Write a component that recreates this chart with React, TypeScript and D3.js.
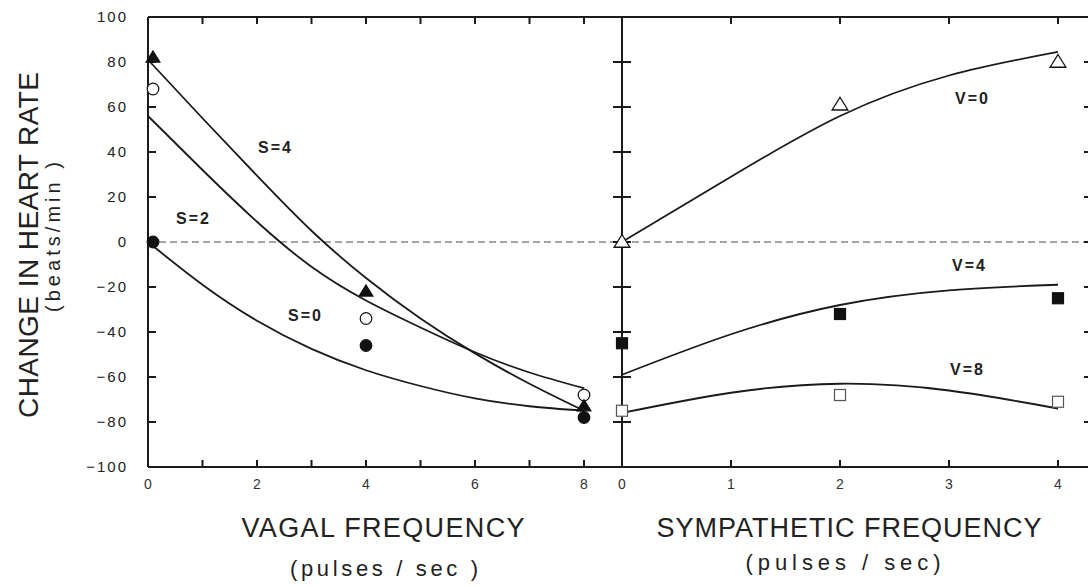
import React from "react";
import * as d3 from "d3";

// Vagal stimulation panel: measured points at 0, 4, 8 pulses/sec
const vagalFreq = [0, 4, 8];
const s4Measured = [82, -22, -73];
const s2Measured = [68, -34, -68];
const s0Measured = [0, -46, -78];

// Fitted response curves, read at each integer frequency
const vagalFitFreq = [0, 1, 2, 3, 4, 5, 6, 7, 8];
const s4Fit = [81, 55, 29.5, 5, -16, -34, -49.5, -63, -75];
const s2Fit = [56, 32, 9, -11, -26, -38, -49, -58, -65];
const s0Fit = [0, -19, -35, -47.5, -57, -64, -69.5, -73, -75];

// Sympathetic stimulation panel
const sympFreq = [0, 2, 4];
const v0Measured = [0, 61, 80];
const v4Measured = [-45, -32, -25];
const v8Measured = [-75, -68, -71];

const sympFitFreq = [0, 1, 2, 3, 4];
const v0Fit = [0, 29, 56, 74, 84.5];
const v4Fit = [-59, -41, -28, -21.5, -19];
const v8Fit = [-76, -67, -63, -66, -74];

const yTicks = [100, 80, 60, 40, 20, 0, -20, -40, -60, -80, -100];
const vagalTicks = [0, 1, 2, 3, 4, 5, 6, 7, 8];
const vagalLabels = [0, 2, 4, 6, 8];
const sympTicks = [0, 1, 2, 3, 4];

const W = 1088;
const H = 587;
const FONT = "'Liberation Sans', Arial, Helvetica, sans-serif";

export default function App() {
  const y = d3.scaleLinear().domain([-100, 100]).range([467, 17]);
  const xV = d3.scaleLinear().domain([0, 8]).range([148, 584]);
  const xS = d3.scaleLinear().domain([0, 4]).range([622, 1058]);
  const rightEdge = 1092;

  const lineV = d3
    .line<[number, number]>()
    .x((d) => xV(d[0]))
    .y((d) => y(d[1]))
    .curve(d3.curveNatural);
  const lineS = d3
    .line<[number, number]>()
    .x((d) => xS(d[0]))
    .y((d) => y(d[1]))
    .curve(d3.curveNatural);

  const zip = (xs: number[], ys: number[]) =>
    xs.map((v, i) => [v, ys[i]] as [number, number]);

  const tri = (cx: number, cy: number, filled: boolean, key: string, s = 7) => (
    <path
      key={key}
      d={`M${cx},${cy - s}L${cx + s * 1.05},${cy + s * 0.7}L${cx - s * 1.05},${cy + s * 0.7}Z`}
      fill={filled ? "#111" : "#fff"}
      stroke="#111"
      strokeWidth={1.3}
    />
  );
  const circ = (cx: number, cy: number, filled: boolean, key: string) => (
    <circle key={key} cx={cx} cy={cy} r={5.8} fill={filled ? "#111" : "#fff"} stroke="#111" strokeWidth={1.2} />
  );
  const sq = (cx: number, cy: number, filled: boolean, key: string) => (
    <rect
      key={key}
      x={cx - 5.5}
      y={cy - 5.5}
      width={11}
      height={11}
      fill={filled ? "#111" : "#fff"}
      stroke={filled ? "#111" : "#555"}
      strokeWidth={1.2}
    />
  );

  const stroke = "#1a1a1a";

  return (
    <svg
      width={W}
      height={H}
      style={{ position: "absolute", left: 0, top: 0, background: "#fff" }}
      fontFamily={FONT}
    >
      {/* zero reference line */}
      <line x1={148} x2={W} y1={y(0)} y2={y(0)} stroke="#888" strokeWidth={1.5} strokeDasharray="7 4" />

      {/* frame */}
      <line x1={148} x2={rightEdge} y1={y(100)} y2={y(100)} stroke={stroke} strokeWidth={2} />
      <line x1={148} x2={rightEdge} y1={y(-100)} y2={y(-100)} stroke={stroke} strokeWidth={2} />
      <line x1={148} x2={148} y1={y(100)} y2={y(-100)} stroke={stroke} strokeWidth={2} />
      <line x1={xS(0)} x2={xS(0)} y1={y(100)} y2={y(-100)} stroke={stroke} strokeWidth={2} />
      <line x1={rightEdge} x2={rightEdge} y1={y(100)} y2={y(-100)} stroke={stroke} strokeWidth={2} />

      {/* y ticks */}
      {yTicks.map((t) => (
        <g key={`yt${t}`}>
          {t !== 100 && t !== -100 && (
            <>
              <line x1={148} x2={156} y1={y(t)} y2={y(t)} stroke={stroke} strokeWidth={2} />
              <line x1={xS(0) - 9} x2={xS(0) + 9} y1={y(t)} y2={y(t)} stroke={stroke} strokeWidth={2} />
              <line x1={rightEdge - 8} x2={rightEdge} y1={y(t)} y2={y(t)} stroke={stroke} strokeWidth={2} />
            </>
          )}
          <text
            x={128}
            y={y(t)}
            dy="0.35em"
            textAnchor="end"
            fontSize={15}
            letterSpacing={2}
            fill="#222"
          >
            {t < 0 ? `\u2212${Math.abs(t)}` : t}
          </text>
        </g>
      ))}

      {/* vagal x ticks */}
      {vagalTicks.map((t) =>
        t === 0 ? null : (
          <g key={`vx${t}`}>
            <line x1={xV(t)} x2={xV(t)} y1={y(-100)} y2={y(-100) - 7} stroke={stroke} strokeWidth={2} />
            <line x1={xV(t)} x2={xV(t)} y1={y(100)} y2={y(100) + 7} stroke={stroke} strokeWidth={2} />
          </g>
        )
      )}
      {vagalLabels.map((t) => (
        <text key={`vl${t}`} x={xV(t)} y={484} dy="0.35em" textAnchor="middle" fontSize={14} fill="#333">
          {t}
        </text>
      ))}

      {/* sympathetic x ticks */}
      {sympTicks.map((t) => (
        <g key={`sx${t}`}>
          {t !== 0 && (
            <>
              <line x1={xS(t)} x2={xS(t)} y1={y(-100)} y2={y(-100) - 7} stroke={stroke} strokeWidth={2} />
              <line x1={xS(t)} x2={xS(t)} y1={y(100)} y2={y(100) + 7} stroke={stroke} strokeWidth={2} />
            </>
          )}
          <text x={xS(t)} y={484} dy="0.35em" textAnchor="middle" fontSize={14} fill="#333">
            {t}
          </text>
        </g>
      ))}

      {/* fitted curves */}
      {[s4Fit, s2Fit, s0Fit].map((f, i) => (
        <path key={`vf${i}`} d={lineV(zip(vagalFitFreq, f)) || ""} fill="none" stroke={stroke} strokeWidth={1.8} />
      ))}
      {[v0Fit, v4Fit, v8Fit].map((f, i) => (
        <path key={`sf${i}`} d={lineS(zip(sympFitFreq, f)) || ""} fill="none" stroke={stroke} strokeWidth={1.8} />
      ))}

      {/* measured points: vagal */}
      {vagalFreq.map((v, i) => circ(xV(v) + (i === 0 ? 5 : 0), y(s2Measured[i]), false, `s2${i}`))}
      {vagalFreq.map((v, i) => circ(xV(v) + (i === 0 ? 5 : 0), y(s0Measured[i]), true, `s0${i}`))}
      {vagalFreq.map((v, i) => tri(xV(v) + (i === 0 ? 5 : 0), y(s4Measured[i]), true, `s4${i}`, 6.5))}

      {/* measured points: sympathetic */}
      {sympFreq.map((v, i) => tri(xS(v), y(v0Measured[i]), false, `v0${i}`, 7.5))}
      {sympFreq.map((v, i) => sq(xS(v), y(v4Measured[i]), true, `v4${i}`))}
      {sympFreq.map((v, i) => sq(xS(v), y(v8Measured[i]), false, `v8${i}`))}

      {/* curve labels */}
      <g fontSize={16} fontWeight="bold" fill="#222" letterSpacing={2}>
        <text x={258} y={147} dy="0.35em">S=4</text>
        <text x={176} y={218} dy="0.35em">S=2</text>
        <text x={288} y={315} dy="0.35em">S=0</text>
        <text x={955} y={98} dy="0.35em">V=0</text>
        <text x={952} y={265} dy="0.35em">V=4</text>
        <text x={950} y={369} dy="0.35em">V=8</text>
      </g>

      {/* axis titles */}
      <text
        transform="translate(38,245) rotate(-90)"
        textAnchor="middle"
        fontSize={28}
        textLength={346}
        lengthAdjust="spacing"
        fill="#222"
      >
        CHANGE IN HEART RATE
      </text>
      <text
        transform="translate(60,237) rotate(-90)"
        textAnchor="middle"
        fontSize={20}
        textLength={150}
        lengthAdjust="spacing"
        fill="#222"
      >
        (beats/min )
      </text>
      <text x={383} y={537} textAnchor="middle" fontSize={27} textLength={283} lengthAdjust="spacing" fill="#222">
        VAGAL FREQUENCY
      </text>
      <text x={384} y={576} textAnchor="middle" fontSize={22} textLength={188} lengthAdjust="spacing" fill="#222">
        (pulses / sec )
      </text>
      <text x={849} y={537} textAnchor="middle" fontSize={27} textLength={385} lengthAdjust="spacing" fill="#222">
        SYMPATHETIC FREQUENCY
      </text>
      <text x={843} y={570} textAnchor="middle" fontSize={22} textLength={195} lengthAdjust="spacing" fill="#222">
        (pulses / sec)
      </text>
    </svg>
  );
}
